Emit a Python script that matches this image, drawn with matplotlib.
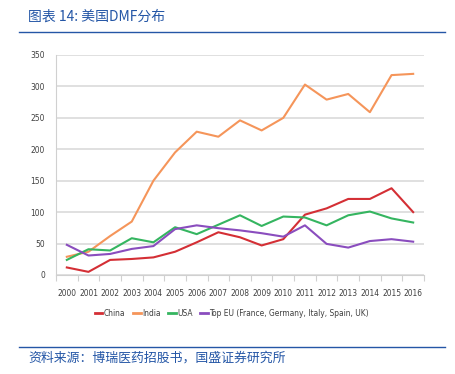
import numpy as np
import matplotlib
matplotlib.use("Agg")
import matplotlib.pyplot as plt
from matplotlib.lines import Line2D

plt.rcParams['font.family'] = ['DejaVu Sans']
plt.rcParams['font.stretch'] = 'condensed'

# ---------------- data ----------------
years = [str(y) for y in range(2000, 2017)]
china = [12, 5, 24, 25.5, 28, 37, 52, 68, 60, 47, 57, 96, 106, 121, 121, 138, 100]
india = [29, 37, 62, 85, 150, 195, 228, 220, 246, 230, 250, 303, 279, 288, 259, 318, 320]
usa = [24, 41, 39, 58.5, 52, 76, 65, 80, 95, 78, 93, 91.5, 79, 95, 101, 90, 83.5]
top_eu = [48, 31, 33.5, 41.5, 46, 73, 79, 74.5, 71, 66.5, 61, 79, 49.5, 43.6, 54, 57, 53]

series = [
    ('China', china, '#D42F35'),
    ('India', india, '#F5955A'),
    ('USA', usa, '#35B560'),
    ('Top EU (France, Germany, Italy, Spain, UK)', top_eu, '#8A4DBE'),
]

title_text = '图表 14: 美国DMF分布'
source_text = '资料来源：博瑞医药招股书，国盛证券研究所'
blue = '#2456A6'
cjk = ['Noto Sans CJK SC', 'DejaVu Sans']

# ---------------- figure ----------------
fig = plt.figure(figsize=(4.56, 3.74), dpi=100)
ax = fig.add_axes([56 / 456, 1 - 275 / 374, (424 - 56) / 456, (275 - 55) / 374])

x = np.arange(len(years))
for name, vals, col in series:
    ax.plot(x, vals, color=col, lw=1.5, label=name)

ax.set_xlim(-0.5, len(years) - 0.5)
ax.set_ylim(0, 350)
ax.set_yticks(range(0, 351, 50))
ax.set_xticks(x)
ax.set_xticklabels(years)
ax.set_xticks(np.arange(-0.5, len(years), 1), minor=True)
ax.tick_params(axis='x', which='major', length=0, pad=10, labelsize=6.0, labelcolor='#404040')
ax.tick_params(axis='x', which='minor', length=4, color='#D0D0D0', width=0.8)
ax.tick_params(axis='y', length=0, pad=8, labelsize=6.0, labelcolor='#404040')

ax.grid(axis='y', color='#DADADA', lw=1.2)
ax.set_axisbelow(True)
for s in ['top', 'right']:
    ax.spines[s].set_visible(False)
ax.spines['left'].set_color('#D0D0D0')
ax.spines['bottom'].set_color('#D0D0D0')
ax.spines['left'].set_linewidth(0.8)
ax.spines['bottom'].set_linewidth(0.8)

handles = [Line2D([0], [0], color=c, lw=2) for _, _, c in series]
fig.legend(handles, [n for n, _, _ in series], loc='center', bbox_to_anchor=(232 / 456, 1 - 313 / 374),
           ncol=4, frameon=False, fontsize=6.0, handlelength=0.9, handletextpad=0.2,
           columnspacing=0.9, labelcolor='#404040')

# title and source
fig.text(28 / 456, 1 - 17 / 374, title_text, color=blue, fontsize=10, style='italic',
         family=cjk, va='center', ha='left')
fig.add_artist(Line2D([19 / 456, 445 / 456], [1 - 32 / 374, 1 - 32 / 374], color=blue, lw=1.0))
fig.add_artist(Line2D([19 / 456, 445 / 456], [1 - 347 / 374, 1 - 347 / 374], color=blue, lw=1.0))
fig.text(28 / 456, 1 - 358 / 374, source_text, color=blue, fontsize=9.3, style='italic',
         family=cjk, va='center', ha='left')

fig.savefig('out.png', dpi=100)
